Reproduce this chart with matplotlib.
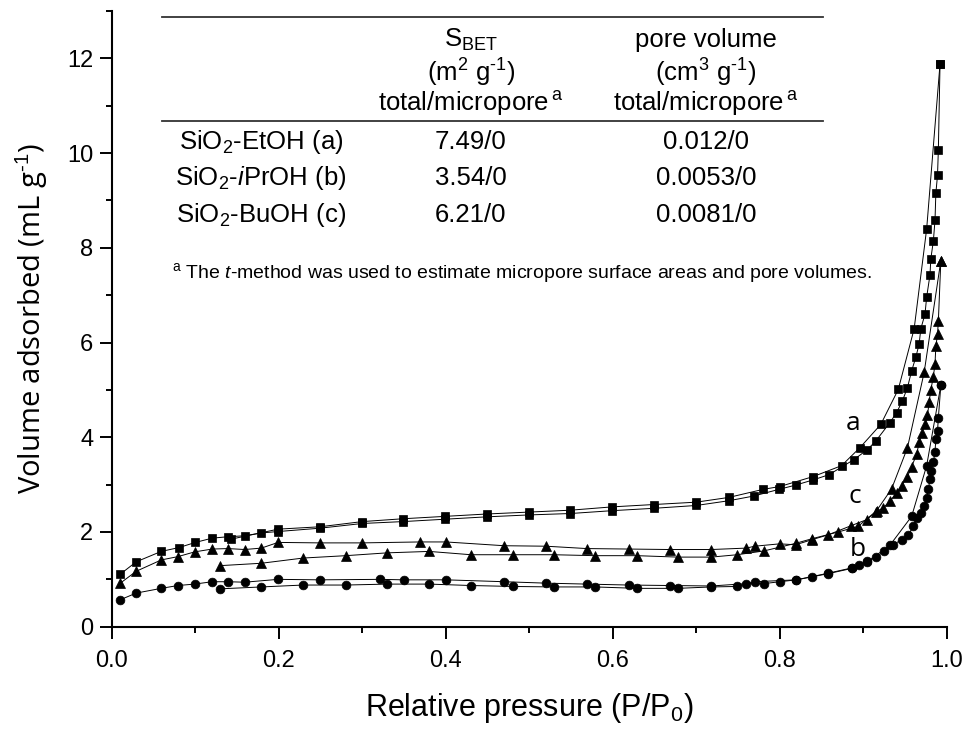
import matplotlib
matplotlib.use("Agg")
import matplotlib.pyplot as plt
from matplotlib.lines import Line2D
from matplotlib.ticker import MultipleLocator

plt.rcParams['font.family'] = ['Liberation Sans', 'DejaVu Sans']
plt.rcParams['mathtext.fontset'] = 'custom'
plt.rcParams['mathtext.rm'] = 'Liberation Sans'
plt.rcParams['mathtext.it'] = 'Liberation Sans:italic'

# SiO2-EtOH (a), squares
a_ads_x = [0.010, 0.029, 0.059, 0.080, 0.100, 0.120, 0.139, 0.159, 0.179, 0.199,
           0.249, 0.300, 0.349, 0.399, 0.449, 0.499, 0.549, 0.599, 0.649, 0.700,
           0.739, 0.769, 0.799, 0.819, 0.840, 0.859, 0.889, 0.905, 0.915, 0.932,
           0.940, 0.947, 0.953, 0.958, 0.963, 0.967, 0.969, 0.974, 0.976, 0.980,
           0.981, 0.984, 0.986, 0.987, 0.989, 0.990, 0.992]
a_ads_y = [1.11, 1.37, 1.59, 1.67, 1.78, 1.87, 1.90, 1.92, 1.98, 2.01,
           2.08, 2.18, 2.22, 2.27, 2.32, 2.36, 2.39, 2.45, 2.50, 2.56,
           2.66, 2.76, 2.90, 2.99, 3.10, 3.21, 3.53, 3.74, 3.92, 4.31,
           4.52, 4.77, 5.05, 5.40, 5.69, 5.97, 6.29, 6.60, 6.96, 7.43,
           7.77, 8.14, 8.58, 9.15, 9.53, 10.06, 11.88]
a_des_x = [0.992, 0.976, 0.961, 0.942, 0.921, 0.896, 0.874, 0.840, 0.800, 0.780,
           0.739, 0.700, 0.649, 0.599, 0.549, 0.499, 0.449, 0.399, 0.349, 0.300,
           0.249, 0.199, 0.143]
a_des_y = [11.88, 8.40, 6.29, 5.01, 4.27, 3.78, 3.40, 3.17, 2.96, 2.90,
           2.73, 2.63, 2.58, 2.53, 2.46, 2.42, 2.38, 2.33, 2.28, 2.22,
           2.11, 2.06, 1.85]

# SiO2-iPrOH (b), circles
b_ads_x = [0.010, 0.029, 0.059, 0.079, 0.099, 0.120, 0.139, 0.159, 0.199, 0.249,
           0.321, 0.350, 0.400, 0.470, 0.520, 0.569, 0.619, 0.668, 0.718, 0.760,
           0.781, 0.800, 0.820, 0.839, 0.858, 0.886, 0.895, 0.905, 0.915, 0.925,
           0.936, 0.946, 0.954, 0.960, 0.964, 0.969, 0.973, 0.976, 0.978, 0.980,
           0.981, 0.984, 0.986, 0.987, 0.989, 0.990, 0.993]
b_ads_y = [0.57, 0.71, 0.81, 0.87, 0.90, 0.95, 0.95, 0.94, 1.00, 0.99,
           1.00, 0.99, 0.99, 0.95, 0.92, 0.90, 0.88, 0.87, 0.86, 0.91,
           0.91, 0.95, 0.99, 1.06, 1.13, 1.24, 1.31, 1.38, 1.47, 1.59,
           1.73, 1.84, 1.94, 2.12, 2.30, 2.40, 2.54, 2.72, 2.90, 3.11,
           3.28, 3.47, 3.69, 3.97, 4.13, 4.41, 5.10]
b_des_x = [0.993, 0.976, 0.958, 0.932, 0.904, 0.886, 0.858, 0.820, 0.770, 0.749,
           0.718, 0.678, 0.629, 0.579, 0.529, 0.480, 0.430, 0.380, 0.330, 0.280,
           0.229, 0.179, 0.130]
b_des_y = [5.10, 3.40, 2.33, 1.72, 1.36, 1.23, 1.12, 0.99, 0.95, 0.85,
           0.84, 0.81, 0.81, 0.84, 0.84, 0.85, 0.87, 0.90, 0.90, 0.88,
           0.88, 0.84, 0.80]

# SiO2-BuOH (c), triangles
c_ads_x = [0.010, 0.029, 0.059, 0.079, 0.099, 0.120, 0.139, 0.159, 0.179, 0.199,
           0.249, 0.300, 0.369, 0.400, 0.470, 0.520, 0.569, 0.619, 0.668, 0.718,
           0.760, 0.770, 0.800, 0.819, 0.839, 0.858, 0.885, 0.904, 0.915, 0.924,
           0.932, 0.940, 0.946, 0.953, 0.958, 0.964, 0.967, 0.970, 0.974, 0.977,
           0.979, 0.981, 0.984, 0.986, 0.987, 0.989, 0.990, 0.993]
c_ads_y = [0.92, 1.17, 1.41, 1.48, 1.58, 1.64, 1.65, 1.63, 1.66, 1.78,
           1.77, 1.77, 1.79, 1.79, 1.71, 1.70, 1.65, 1.64, 1.63, 1.63,
           1.66, 1.70, 1.75, 1.73, 1.84, 1.94, 2.13, 2.26, 2.42, 2.51,
           2.65, 2.83, 2.98, 3.17, 3.38, 3.64, 3.89, 4.08, 4.27, 4.46,
           4.75, 5.00, 5.28, 5.55, 5.92, 6.17, 6.45, 7.73]
c_des_x = [0.993, 0.973, 0.953, 0.934, 0.916, 0.894, 0.870, 0.839, 0.819, 0.781,
           0.749, 0.718, 0.678, 0.629, 0.579, 0.529, 0.480, 0.430, 0.380, 0.330,
           0.280, 0.229, 0.179, 0.130]
c_des_y = [7.73, 5.37, 3.78, 2.91, 2.45, 2.12, 2.00, 1.86, 1.76, 1.60,
           1.52, 1.47, 1.47, 1.50, 1.50, 1.52, 1.52, 1.52, 1.59, 1.56,
           1.50, 1.45, 1.34, 1.29]

curve_labels = ['a', 'b', 'c']
curve_label_x = [0.888, 0.894, 0.890]
curve_label_y = [4.29, 1.64, 2.75]

table_rows = [r'SiO$_2$-EtOH (a)', r'SiO$_2$-$\mathit{i}$PrOH (b)', r'SiO$_2$-BuOH (c)']
sbet_vals = ['7.49/0', '3.54/0', '6.21/0']
pore_vals = ['0.012/0', '0.0053/0', '0.0081/0']

HY = '\u2010'  # plain hyphen for the -1 exponents

fig = plt.figure(figsize=(9.67, 7.29), dpi=100)
ax = fig.add_axes([0.1158, 0.1403, 0.8632, 0.8446])

series = [
    (a_ads_x, a_ads_y, a_des_x, a_des_y, 's', 5.8),
    (b_ads_x, b_ads_y, b_des_x, b_des_y, 'o', 6.3),
    (c_ads_x, c_ads_y, c_des_x, c_des_y, '^', 7.0),
]
for ax_x, ax_y, dx, dy, mk, ms in series:
    ax.plot(ax_x, ax_y, color='black', lw=0.7, marker=mk, ms=ms,
            mec='black', mfc='black', mew=0.5)
    ax.plot(dx, dy, color='black', lw=0.7, marker=mk, ms=ms,
            mec='black', mfc='black', mew=0.5)

for lab, lx, ly in zip(curve_labels, curve_label_x, curve_label_y):
    ax.text(lx, ly, lab, fontsize=19, family='Open Sans',
            ha='center', va='center')

ax.set_xlim(0, 1.0)
ax.set_ylim(0, 13)
ax.xaxis.set_major_locator(MultipleLocator(0.2))
ax.xaxis.set_minor_locator(MultipleLocator(0.1))
ax.yaxis.set_major_locator(MultipleLocator(2))
ax.yaxis.set_minor_locator(MultipleLocator(1))
ax.set_xticklabels([f'{v:.1f}' for v in ax.get_xticks()])
ax.tick_params(which='major', length=8.5, width=1.4, labelsize=17)
ax.tick_params(axis='x', which='major', pad=8)
ax.tick_params(axis='y', which='major', pad=5)
ax.tick_params(which='minor', length=4.5, width=1.4)
for side in ['top', 'right']:
    ax.spines[side].set_visible(False)
for side in ['left', 'bottom']:
    ax.spines[side].set_linewidth(1.5)

ax.set_xlabel(r'Relative pressure (P/P$_0$)', fontsize=22, labelpad=14)
ax.set_ylabel('Volume adsorbed (mL g$^{' + HY + '1}$)', fontsize=21,
              family='Open Sans', labelpad=12)

# inset table
def fx(px):
    return px / 967

def fy(py):
    return 1 - py / 729

fig.add_artist(Line2D([fx(162), fx(823)], [fy(17), fy(17)], color='#333333', lw=1.3))
fig.add_artist(Line2D([fx(162), fx(823)], [fy(121), fy(121)], color='#333333', lw=1.3))

col1, col2, col3 = fx(261), fx(471), fx(706)
tfs = 18.5
fig.text(col2, fy(40), r'S$_{\rm BET}$', fontsize=tfs, ha='center', va='center')
fig.text(col2, fy(73), '(m$^2$ g$^{' + HY + '1}$)', fontsize=tfs, ha='center', va='center')
fig.text(col2, fy(104), r'total/micropore$^{\rm \,a}$', fontsize=tfs, ha='center', va='center')
fig.text(col3, fy(40), 'pore volume', fontsize=tfs, ha='center', va='center')
fig.text(col3, fy(73), '(cm$^3$ g$^{' + HY + '1}$)', fontsize=tfs, ha='center', va='center')
fig.text(col3, fy(104), r'total/micropore$^{\rm \,a}$', fontsize=tfs, ha='center', va='center')

row_y = [141.7, 178.3, 215]
for name, s, p, yy in zip(table_rows, sbet_vals, pore_vals, row_y):
    fig.text(col1, fy(yy), name, fontsize=tfs, ha='center', va='center')
    fig.text(col2, fy(yy), s, fontsize=tfs, ha='center', va='center')
    fig.text(col3, fy(yy), p, fontsize=tfs, ha='center', va='center')

fig.text(fx(172), fy(273),
         r'$^{\rm a}$ The $\mathit{t}$-method was used to estimate micropore surface areas and pore volumes.',
         fontsize=14, ha='left', va='center')

fig.savefig('out.png', dpi=100)
